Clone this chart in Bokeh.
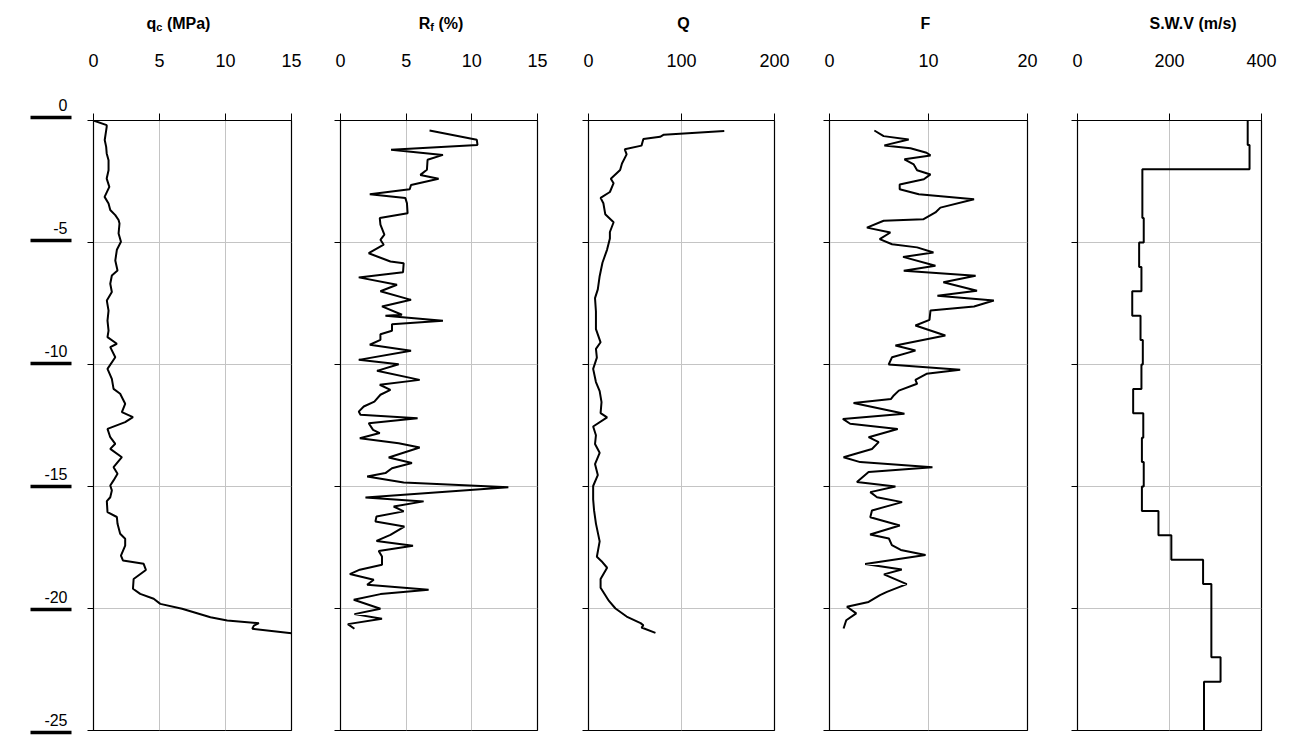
from bokeh.plotting import figure
from bokeh.layouts import row, column
from bokeh.models import Range1d, FixedTicker, ColumnDataSource
from bokeh.embed import file_html
from bokeh.resources import INLINE
from bokeh.core.properties import value

FONT = "Liberation Sans"

# ---------------- data ----------------
qc_depth = [0.0, 0.19, 0.26, 0.8, 1.08, 1.35, 1.63, 2.04, 2.38, 2.72, 3.13, 3.4, 3.67, 3.88, 4.08, 4.22,
            4.63, 4.97, 5.3, 5.74, 6.15, 6.35, 6.69, 7.03, 7.38, 7.79, 8.2, 8.61, 8.88, 9.15, 9.29, 9.7,
            10.18, 10.59, 11.0, 11.2, 11.61, 11.95, 12.16, 12.36, 12.64, 12.98, 13.25, 13.46, 13.8, 14.21,
            14.48, 14.75, 14.96, 15.16, 15.44, 15.6, 16.05, 16.25, 16.53, 16.94, 17.14, 17.42, 17.83, 18.03,
            18.17, 18.42, 18.79, 19.19, 19.4, 19.6, 19.81, 20.01, 20.36, 20.49, 20.6, 20.7, 20.83, 21.01]
qc_value = [0.0, 1.0, 1.0, 0.85, 0.96, 1.0, 1.14, 1.14, 1.0, 1.2, 0.84, 1.14, 1.27, 1.65, 1.9, 1.97,
            1.9, 2.08, 1.77, 1.65, 1.82, 1.39, 1.27, 1.39, 1.01, 1.14, 1.06, 1.14, 1.06, 1.77, 1.27, 1.65,
            1.06, 1.39, 1.52, 2.02, 2.4, 2.15, 2.99, 2.4, 1.06, 1.27, 1.65, 1.27, 2.15, 1.52,
            1.82, 1.52, 1.27, 1.39, 1.27, 1.01, 1.06, 1.77, 1.82, 2.02, 2.4, 2.4, 2.08, 2.23,
            3.8, 3.97, 3.04, 2.99, 3.54, 4.56, 5.06, 6.71, 8.86, 10.13, 12.53, 12.15, 12.03, 15.0]

rf_depth = [0.41, 0.79, 1.0, 1.2, 1.41, 1.61, 2.02, 2.23, 2.39, 2.64, 2.82, 3.02, 3.18, 3.39, 3.8, 4.0,
            4.27, 4.68, 4.89, 5.09, 5.44, 5.78, 5.85, 6.22, 6.43, 6.73, 7.0, 7.35, 7.62, 7.96, 8.0, 8.21,
            8.35, 8.62, 8.76, 8.99, 9.19, 9.44, 9.81, 9.99, 10.26, 10.63, 10.83, 11.04, 11.24, 11.52, 11.72,
            11.93, 12.06, 12.2, 12.41, 12.68, 12.81, 13.02, 13.23, 13.4, 13.81, 14.04, 14.25, 14.45, 14.59,
            14.84, 15.03, 15.45, 15.61, 15.82, 16.02, 16.23, 16.43, 16.64, 16.98, 17.23, 17.43, 17.64, 17.87,
            18.21, 18.41, 18.59, 18.82, 19.03, 19.23, 19.41, 19.64, 20.01, 20.23, 20.42, 20.64, 20.83]
rf_value = [6.78, 10.38, 10.43, 3.85, 7.8, 6.63, 6.58, 6.08, 7.47, 5.37, 5.27, 2.23, 4.94, 5.06, 5.11, 2.99,
            3.04, 3.34, 3.04, 3.29, 2.15, 3.8, 4.81, 4.76, 1.39, 4.3, 3.04, 5.37, 3.16, 4.68, 3.42, 7.8,
            3.92, 3.92, 3.04, 3.04, 2.23, 5.37, 1.39, 4.43, 2.78, 6.03, 2.99, 3.8, 3.04, 2.58, 1.77,
            1.39, 1.52, 5.87, 2.15, 2.48, 2.99, 1.47, 4.43, 6.03, 3.67, 5.44, 3.92, 3.42, 2.03,
            4.81, 12.78, 1.9, 6.33, 4.05, 4.81, 2.74, 2.66, 4.86, 3.8, 2.74, 5.52, 2.91, 3.16,
            3.16, 1.47, 0.71, 2.53, 2.03, 6.71, 3.04, 1.01, 3.04, 1.06, 3.16, 0.56, 1.06]

q_depth = [0.43, 0.58, 0.67, 0.76, 1.03, 1.18, 1.39, 1.76, 2.03, 2.39, 2.57, 2.93, 3.17, 3.39, 3.84, 4.17,
           4.57, 4.84, 5.29, 5.83, 6.38, 6.92, 7.28, 7.83, 8.55, 9.09, 9.36, 9.72, 10.18, 10.72, 11.09,
           11.54, 11.99, 12.17, 12.54, 12.9, 13.26, 13.62, 14.08, 14.53, 14.98, 15.53, 15.98, 16.52, 17.25,
           17.88, 18.06, 18.33, 18.79, 19.15, 19.69, 20.0, 20.33, 20.6, 20.69, 20.78, 21.0]
q_value = [146, 81, 77, 59, 57, 39, 41, 36, 34, 24, 27, 23, 13, 16, 18, 27,
           23, 23, 20, 15, 12, 10, 7, 8, 8, 13, 8, 9, 5, 8, 12,
           14, 13, 20, 5, 8, 7, 12, 7, 10, 5, 5, 6, 8, 12,
           9, 14, 20, 13, 13, 22, 29, 41, 56, 59, 57, 72]

f_depth = [0.41, 0.64, 0.78, 1.02, 1.14, 1.32, 1.43, 1.59, 1.8, 2.04, 2.21, 2.41, 2.62, 2.82, 3.02, 3.23,
           3.57, 3.77, 4.05, 4.11, 4.39, 4.59, 4.86, 5.07, 5.2, 5.41, 5.59, 5.95, 6.16, 6.36, 6.63, 6.98,
           7.18, 7.38, 7.62, 7.79, 8.17, 8.4, 8.81, 9.22, 9.43, 9.7, 10.0, 10.22, 10.38, 10.63, 10.79,
           11.07, 11.27, 11.41, 11.58, 12.02, 12.23, 12.43, 12.64, 12.98, 13.18, 13.46, 13.8, 14.0, 14.21,
           14.41, 14.82, 15.0, 15.23, 15.44, 15.64, 15.98, 16.26, 16.6, 16.97, 17.13, 17.4, 17.6, 17.81,
           18.18, 18.4, 18.6, 19.0, 19.32, 19.45, 19.73, 19.93, 20.2, 20.48, 20.82]
f_value = [4.53, 5.47, 8.0, 5.54, 8.18, 9.8, 10.2, 7.57, 8.51, 8.85, 10.2, 9.53, 7.09, 7.09, 9.02, 14.6,
           11.2, 10.7, 9.46, 5.47, 3.78, 6.15, 5.07, 6.32, 8.85, 10.5, 7.43, 10.7, 7.5, 14.76, 11.5, 14.9,
           10.9, 16.6, 14.6, 10.2, 10.1, 8.68, 11.7, 6.66, 8.68, 6.32, 5.98, 13.2, 9.8, 8.68, 8.85,
           7.0, 6.49, 6.22, 2.43, 7.57, 1.35, 2.09, 6.89, 3.95, 4.97, 4.29, 1.42, 3.1, 10.4,
           3.95, 2.77, 6.66, 4.12, 4.8, 7.33, 4.29, 4.12, 7.1, 4.1, 6.0, 6.3, 7.2, 9.7,
           3.6, 7.3, 5.5, 7.8, 5.8, 5.1, 3.95, 1.76, 2.7, 1.69, 1.42]

# shear wave velocity: layer boundaries (m) and velocity of each layer (m/s)
swv_bounds = [0, 1, 2, 3, 4, 5, 6, 7, 8, 9, 10, 11, 12, 13, 14, 15, 16, 17, 18, 19, 20, 21, 22, 23, 24, 25]
swv_velocity = [370, 374, 141, 141, 144, 134, 139, 119, 137, 142, 139, 121, 143, 140, 144, 140,
                176, 204, 273, 291, 291, 291, 311, 275, 275]

depth_ticks = [0, -5, -10, -15, -20, -25]
depth_tick_labels = ["0", "-5", "-10", "-15", "-20", "-25"]

titles = [
    [("q", False), ("c", True), (" (MPa)", False)],
    [("R", False), ("f", True), (" (%)", False)],
    [("Q", False)],
    [("F", False)],
    [("S.W.V (m/s)", False)],
]
x_max = [15, 15, 200, 20, 400]
x_ticks = [[0, 5, 10, 15], [0, 5, 10, 15], [0, 100, 200], [0, 10, 20], [0, 200, 400]]

# ---------------- layout / style constants ----------------
FIG_H = 754
TITLE_H = 40
TOP = 120
FRAME_H = 610
LEFT = 10
frame_widths = [198, 197, 186, 198, 184]
right_borders = [39, 41, 45, 40, 44]
title_shift = [-14, 2, 2, -3, 24]       # px, horizontal placement of each title
TITLE_BASE = 23                         # px from top of page to title baseline

TITLE_SIZE = 16
SUB_SIZE = 11
BOLD_W = {' ': 278, '(': 333, ')': 333, '%': 889, '.': 278, '/': 278, 'M': 833, 'P': 667, 'a': 556,
          'q': 611, 'c': 556, 'R': 722, 'f': 333, 'Q': 778, 'F': 611, 'S': 667, 'W': 944, 'V': 667,
          'm': 889, 's': 556}


def tw(s, size):
    return sum(BOLD_W.get(ch, 556) for ch in s) * size / 1000.0


# ---------------- depth label column ----------------
LAB_TOP, LAB_BOT = 117, 732            # page positions of the 0 and -25 label bars
px_per_m = (LAB_BOT - LAB_TOP) / 25.0
LABEL_LIFT = 13.0                      # px between bar and label baseline
lab = figure(frame_width=83, frame_height=FIG_H, x_range=Range1d(0, 83),
             y_range=Range1d(-25 - (FIG_H - LAB_BOT) / px_per_m, LAB_TOP / px_per_m),
             x_axis_location=None, y_axis_location=None, output_backend="svg", toolbar_location=None,
             min_border_left=0, min_border_right=0, min_border_top=0, min_border_bottom=0)
lab.outline_line_color = None
lab.grid.visible = False
lab.segment(x0=[30] * len(depth_ticks), x1=[71] * len(depth_ticks), y0=depth_ticks, y1=depth_ticks,
            line_color="black", line_width=3.5)
lab.text(x=[67] * len(depth_ticks), y=[t + LABEL_LIFT / px_per_m for t in depth_ticks],
         text=depth_tick_labels, text_align="right", text_baseline="alphabetic",
         text_font=value(FONT), text_font_size="16px", text_color="black")


def title_fig(i):
    t = figure(frame_width=frame_widths[i], frame_height=TITLE_H,
               x_range=Range1d(0, x_max[i]), y_range=Range1d(0, TITLE_H),
               x_axis_location=None, y_axis_location=None, output_backend="svg", toolbar_location=None,
               min_border_left=LEFT, min_border_right=right_borders[i], min_border_top=0, min_border_bottom=0)
    t.outline_line_color = None
    t.grid.visible = False
    parts = titles[i]
    total = sum(tw(s, SUB_SIZE if sub else TITLE_SIZE) for s, sub in parts)
    off = -total / 2.0 + title_shift[i]
    for s, sub in parts:
        size = SUB_SIZE if sub else TITLE_SIZE
        body = s.lstrip(" ")
        off += tw(s[:len(s) - len(body)], size)      # leading blanks become an offset
        t.text(x=[x_max[i] / 2.0], y=[TITLE_H - TITLE_BASE - (3 if sub else 0)], text=[body],
               x_offset=off, text_align="left", text_baseline="alphabetic",
               text_font=value(FONT), text_font_size=f"{size}px", text_font_style="bold",
               text_color="black")
        off += tw(body, size)
    return t


def panel(i, xs, ys):
    p = figure(frame_width=frame_widths[i], frame_height=FRAME_H,
               x_range=Range1d(0, x_max[i]), y_range=Range1d(-25, 0),
               x_axis_location="above", output_backend="svg", toolbar_location=None,
               min_border_left=LEFT, min_border_right=right_borders[i],
               min_border_top=TOP - TITLE_H, min_border_bottom=FIG_H - TOP - FRAME_H)
    p.outline_line_color = "black"
    p.outline_line_width = 1.2
    xa = p.xaxis[0]
    xa.ticker = FixedTicker(ticks=x_ticks[i], minor_ticks=[])
    xa.major_tick_out = 7
    xa.major_tick_in = 0
    xa.axis_line_color = "black"
    xa.major_tick_line_color = "black"
    xa.major_label_text_font = FONT
    xa.major_label_text_font_size = "18px"
    xa.major_label_text_color = "black"
    xa.major_label_standoff = 47
    ya = p.yaxis[0]
    ya.ticker = FixedTicker(ticks=depth_ticks, minor_ticks=[])
    ya.major_tick_out = 6
    ya.major_tick_in = 0
    ya.axis_line_color = "black"
    ya.major_tick_line_color = "black"
    ya.major_label_overrides = {t: "" for t in depth_ticks}
    ya.major_label_standoff = 0
    p.xgrid.ticker = FixedTicker(ticks=x_ticks[i])
    p.ygrid.ticker = FixedTicker(ticks=depth_ticks)
    p.grid.grid_line_color = "#c4c4c4"
    p.grid.grid_line_width = 1
    src = ColumnDataSource(dict(x=xs, y=ys))
    p.line("x", "y", source=src, line_color="black", line_width=2)
    return column(title_fig(i), p, spacing=0)


cols = [lab]
cols.append(panel(0, qc_value, [-d for d in qc_depth]))
cols.append(panel(1, rf_value, [-d for d in rf_depth]))
cols.append(panel(2, q_value, [-d for d in q_depth]))
cols.append(panel(3, f_value, [-d for d in f_depth]))

sx, sy = [], []
for k, v in enumerate(swv_velocity):
    sx += [v, v]
    sy += [-swv_bounds[k], -swv_bounds[k + 1]]
cols.append(panel(4, sx, sy))

layout = row(*cols, spacing=0)
open("out.html", "w").write(file_html(layout, INLINE))
